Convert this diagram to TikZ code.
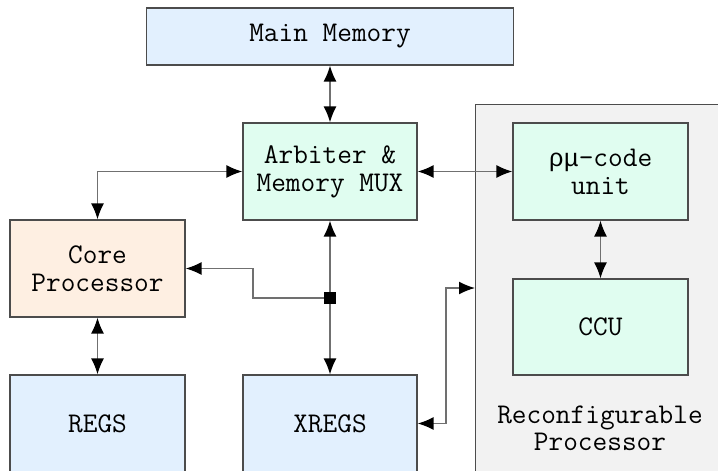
\documentclass[tikz,border=0pt]{standalone}
\usepackage{fontspec}
\newfontfamily\greekmono{Liberation Mono}
\usetikzlibrary{positioning,calc,arrows.meta}
\definecolor{memblue}{HTML}{E2F0FE}
\definecolor{arbgreen}{HTML}{E0FDF0}
\definecolor{corepeach}{HTML}{FEEFE2}
\definecolor{recgray}{HTML}{F2F2F2}
\definecolor{wiregray}{HTML}{707070}
\tikzset{>={Latex[length=16pt,width=13pt,black]}}
\tikzset{
  unit/.style={draw=black!70,line width=1.2pt,minimum width=175pt,minimum height=97pt,
    align=center,inner sep=0pt,font=\ttfamily\fontsize{28.5}{28}\selectfont},
  wire/.style={draw=wiregray,line width=1.5pt},
  junc/.style={fill=black,minimum size=12pt,inner sep=0pt}
}

\begin{document}
\begin{tikzpicture}[x=1pt,y=-1pt]
\useasboundingbox (0,0) rectangle (718,471);
\clip (0,0) rectangle (718,471);
% reconfigurable part
\node[draw=black!70,line width=1.2pt,fill=recgray,minimum width=260pt,minimum height=390pt,
  anchor=north west] (recon) at (475,104) {};
\node[font=\ttfamily\fontsize{28.5}{27}\selectfont,align=center] (rtext) at (600,428)
  {Reconfigurable\\Processor};
\node[unit,fill=arbgreen] (rmu) at (600.5,171.5) {{\greekmono\fontsize{25}{28}\selectfont ρμ}-code\\unit};
\node[unit,fill=arbgreen,minimum height=96pt] (ccu) at (600.5,327) {CCU};
% memory side
\node[unit,fill=memblue,minimum width=367pt,minimum height=57pt] (mem) at (330,36.5) {Main Memory};
\node[unit,fill=arbgreen,minimum width=174pt] (arb) at (330,171.5) {Arbiter \&\\Memory MUX};
\node[unit,fill=corepeach] (core) at (97.5,268.5) {Core\\Processor};
\node[unit,fill=memblue] (regs) at (97.5,423.5) {REGS};
\node[unit,fill=memblue,minimum width=174pt] (xregs) at (330,423.5) {XREGS};
\coordinate (bend) at (253,298);
\coordinate (kink) at (446,288);
% connections
\draw[wire,<->] (mem.south) -- (arb.north);
\draw[wire,<->] (arb.east) -- (rmu.west);
\draw[wire,<->] (arb.west) -| (core.north);
\draw[wire,<->] (arb.south) -- (xregs.north);
\draw[wire,->] (330,298) -- (bend) |- (core.east);
\draw[wire,<->] (core.south) -- (regs.north);
\draw[wire,<->] (rmu.south) -- (ccu.north);
\draw[wire,<->] (xregs.east) -| (kink) -- (kink -| recon.west);
\node[junc] (j) at (330,298) {};
\end{tikzpicture}
\end{document}
